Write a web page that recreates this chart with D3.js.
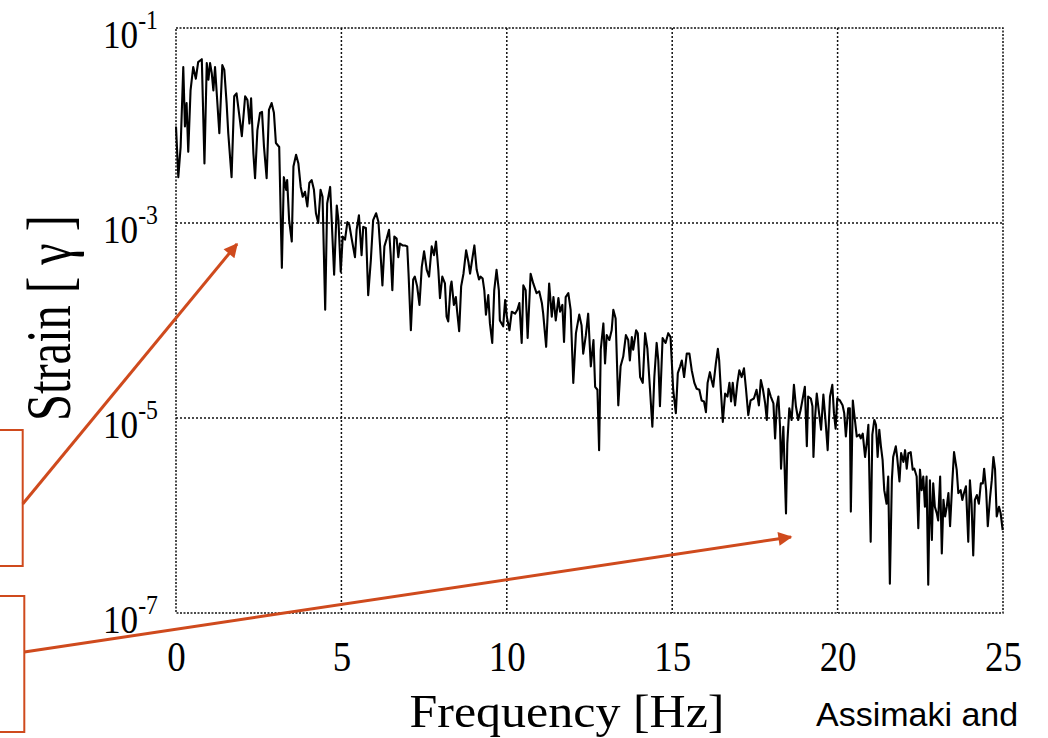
<!DOCTYPE html>
<html><head><meta charset="utf-8">
<script src="https://cdn.jsdelivr.net/npm/d3@7"></script>
<style>html,body{margin:0;padding:0;background:#fff;}svg{display:block;}</style>
</head><body>
<svg id="c" width="1048" height="738"></svg>
<script>
// Frequency (Hz) of each spectral sample
const freq = [
0,0.07,0.14,0.22,0.27,0.32,0.37,0.44,0.52,0.60,
0.67,0.78,0.86,0.93,0.98,1.03,1.08,1.13,1.18,1.31,
1.40,1.46,1.53,1.58,1.68,1.76,1.83,1.93,1.99,2.09,
2.16,2.22,2.27,2.34,2.39,2.46,2.54,2.60,2.66,2.74,
2.81,2.89,2.96,3.02,3.12,3.20,3.26,3.33,3.36,3.42,
3.50,3.55,3.63,3.70,3.77,3.83,3.90,3.97,4.03,4.10,
4.17,4.23,4.30,4.37,4.43,4.51,4.57,4.66,
4.71,4.78,4.86,4.91,4.98,5.04,5.11,5.18,5.24,5.31,
5.41,5.46,5.53,5.61,5.66,5.74,5.81,5.89,5.96,6.05,
6.12,6.17,6.24,6.30,6.37,6.44,6.49,6.54,6.60,6.67,
6.72,6.77,6.85,6.92,6.99,7.03,7.10,7.17,7.22,7.29,
7.36,7.43,7.50,7.58,7.65,7.73,7.80,7.86,7.93,7.98,
8.05,8.13,8.18,8.23,8.30,8.33,8.40,8.46,8.50,8.56,
8.62,8.69,8.77,8.84,8.89,8.96,9.02,9.09,9.16,9.21,
9.27,9.32,9.37,9.44,9.49,9.56,9.62,9.69,9.76,
9.79,9.89,9.95,10.00,10.08,10.15,10.25,10.32,10.38,10.45,
10.50,10.57,10.63,10.72,10.80,10.90,10.98,11.06,11.10,11.19,
11.28,11.36,11.41,11.48,11.56,11.61,11.68,11.73,11.78,11.86,
11.93,12.01,12.09,12.19,12.26,12.31,12.39,12.46,12.54,12.62,
12.67,12.74,12.79,12.84,12.92,12.97,13.02,13.10,13.17,13.22,
13.29,13.37,13.44,13.52,13.60,13.67,13.72,13.78,13.82,13.91,
13.96,14.03,14.11,14.18,14.25,14.33,14.40,14.46,14.53,14.58,
14.63,14.71,14.80,14.88,14.95,15.03,15.11,15.17,15.24,15.29,
15.36,15.44,15.52,15.59,15.67,15.74,15.82,
15.89,15.96,16.02,16.07,16.14,16.19,16.24,16.32,16.38,16.42,
16.47,16.53,16.60,16.67,16.73,16.78,16.83,16.90,16.97,17.03,
17.10,17.17,17.23,17.30,17.37,17.47,17.55,17.62,17.68,17.74,
17.81,17.86,17.91,17.98,18.06,18.11,18.16,18.21,18.26,18.29,
18.36,18.44,18.48,18.54,18.61,18.68,18.74,18.81,18.88,18.93,
19.01,19.07,19.11,19.19,19.24,19.27,19.32,19.37,19.44,19.50,
19.57,19.64,19.70,19.77,19.84,19.89,19.94,19.99,20.07,20.15,
20.20,20.25,20.32,20.37,20.40,20.46,20.50,20.58,20.66,
20.70,20.76,20.83,20.88,20.93,21.00,21.05,21.11,21.16,21.21,
21.26,21.31,21.36,21.41,21.48,21.53,21.58,21.64,21.68,21.76,
21.80,21.87,21.92,21.99,22.04,22.09,22.14,22.21,22.27,22.32,
22.39,22.44,22.49,22.54,22.59,22.64,22.69,22.74,22.79,22.85,
22.89,22.94,23.00,23.04,23.10,23.15,23.20,23.25,23.30,23.35,
23.40,23.47,23.52,23.60,23.65,23.72,23.77,23.82,23.88,23.95,
24.00,24.05,24.10,24.15,24.21,24.27,24.33,24.39,24.43,24.49,
24.54,24.61,24.66,24.71,24.76,24.81,24.88,24.93,24.99
];
// Strain amplitude of each sample, written as its power of ten (strain = 10^value)
const strainLog10 = [
-2.01,-2.53,-2.22,-1.40,-2.01,-1.77,-2.27,-1.64,-1.40,-1.52,
-1.35,-1.32,-2.39,-1.36,-1.53,-1.36,-1.46,-1.64,-1.40,-2.08,
-1.38,-1.43,-1.77,-2.08,-2.53,-1.70,-1.67,-1.94,-2.11,-1.70,
-1.74,-1.98,-1.72,-2.29,-2.54,-2.05,-1.87,-1.86,-2.22,-2.54,
-1.84,-1.77,-1.87,-2.18,-2.22,-3.46,-2.53,-2.66,-2.56,-2.97,
-3.19,-2.42,-2.30,-2.39,-2.63,-2.73,-2.68,-2.83,-2.59,-2.56,
-2.66,-2.90,-3.00,-2.66,-2.73,-3.89,-2.80,-2.63,
-3.00,-3.53,-2.82,-2.97,-3.50,-3.14,-3.17,-2.99,-3.02,-3.16,
-3.35,-3.07,-2.92,-3.33,-3.04,-3.05,-3.74,-3.38,-2.97,-2.90,
-2.99,-3.24,-3.64,-3.24,-3.16,-3.07,-3.33,-3.69,-3.14,-3.16,
-3.35,-3.21,-3.23,-3.23,-3.24,-3.52,-4.10,-3.58,-3.55,-3.65,
-3.84,-3.45,-3.29,-3.48,-3.55,-3.24,-3.33,-3.19,-3.48,-3.77,
-3.55,-3.62,-3.96,-4.01,-3.65,-3.60,-3.84,-3.76,-3.91,-4.11,
-3.65,-3.52,-3.28,-3.40,-3.52,-3.36,-3.23,-3.48,-3.58,-3.55,
-3.57,-3.69,-3.94,-3.74,-4.03,-4.23,-3.69,-3.48,-3.69,
-4.00,-4.06,-3.79,-3.96,-4.10,-3.91,-3.93,-3.89,-3.82,-4.23,
-3.64,-3.69,-4.18,-3.52,-3.62,-3.72,-3.70,-3.82,-3.93,-4.27,
-3.62,-3.96,-3.76,-4.00,-3.77,-3.91,-3.84,-4.22,-3.76,-3.72,
-3.89,-4.64,-4.13,-3.94,-4.05,-4.34,-4.15,-3.93,-4.47,-4.20,
-4.68,-4.71,-5.33,-4.30,-4.03,-4.44,-4.15,-4.20,-4.10,-3.89,
-3.98,-4.87,-4.47,-4.37,-4.15,-4.20,-4.41,-4.17,-4.30,-4.10,
-4.13,-4.58,-4.64,-4.13,-4.29,-4.71,-5.09,-4.58,-4.23,-4.41,
-4.88,-4.18,-4.23,-4.13,-4.17,-4.71,-4.95,-4.54,-4.47,-4.41,
-4.58,-4.34,-4.34,-4.51,-4.64,-4.70,-4.71,
-4.82,-4.83,-4.94,-4.64,-4.53,-4.61,-4.68,-4.44,-4.29,-4.41,
-4.71,-5.04,-4.75,-4.78,-4.64,-4.83,-4.64,-4.87,-4.64,-4.51,
-4.58,-4.49,-4.70,-4.97,-4.82,-4.80,-4.71,-4.87,-4.61,-4.70,
-4.85,-5.02,-4.70,-4.78,-4.85,-5.21,-4.88,-4.78,-5.09,-5.52,
-5.09,-5.98,-5.26,-4.90,-5.02,-4.66,-4.88,-5.02,-4.92,-4.83,
-4.68,-5.29,-4.78,-4.80,-4.88,-5.40,-4.99,-4.75,-4.95,-5.12,
-4.76,-5.05,-5.33,-4.78,-4.66,-4.95,-5.11,-4.80,-4.82,-4.87,
-4.95,-5.19,-4.90,-4.90,-5.96,-4.82,-4.95,-5.19,-5.17,
-5.21,-5.16,-5.40,-5.26,-5.07,-6.27,-5.17,-5.02,-5.07,-5.40,
-5.12,-5.29,-5.43,-5.74,-5.88,-5.60,-6.70,-5.64,-5.40,-5.29,
-5.40,-5.65,-5.36,-5.45,-5.33,-5.52,-5.36,-5.35,-5.53,-5.52,
-5.60,-6.13,-5.53,-5.74,-5.60,-5.91,-5.60,-6.71,-5.64,-6.25,
-5.67,-5.91,-5.98,-6.05,-5.60,-6.39,-5.84,-6.01,-5.91,-5.77,
-6.11,-5.64,-5.35,-5.53,-5.77,-5.74,-5.84,-5.77,-5.70,-6.27,
-5.64,-5.88,-6.41,-5.84,-5.79,-5.88,-5.67,-5.67,-5.52,-5.74,
-6.11,-5.81,-5.64,-5.40,-5.53,-6.01,-5.91,-5.98,-6.15
];
const xTicks = [0, 5, 10, 15, 20, 25];
const yTicks = [1e-1, 1e-3, 1e-5, 1e-7];
const yTickExp = ["-1", "-3", "-5", "-7"];
const xGrid = [5, 10, 15, 20];
const yGrid = [1e-3, 1e-5];
const xTitle = "Frequency [Hz]";
const yTitle = "Strain [ \u03b3 ]";
const credit = "Assimaki and";

const data = freq.map((f, i) => ({f: f, s: Math.pow(10, strainLog10[i])}));

const svg = d3.select("#c");
const L = 176, R = 1003, T = 28, B = 613;
const x = d3.scaleLinear().domain([0, 25]).range([L, R]);
const y = d3.scaleLog().domain([1e-7, 1e-1]).range([B, T]);
const orange = "#CF4A1D";
const serif = "'Liberation Serif','Times New Roman',serif";

svg.append("rect").attr("width", 1048).attr("height", 738).attr("fill", "#fff");

// grid lines
const grid = svg.append("g").attr("stroke", "#111").attr("stroke-width", 1.5).attr("stroke-dasharray", "2,2");
grid.selectAll("line.gx").data(xGrid).join("line").attr("class", "gx")
  .attr("x1", d => x(d)).attr("x2", d => x(d)).attr("y1", T).attr("y2", B);
grid.selectAll("line.gy").data(yGrid).join("line").attr("class", "gy")
  .attr("y1", d => y(d)).attr("y2", d => y(d)).attr("x1", L).attr("x2", R);
// frame
svg.append("rect").attr("x", L).attr("y", T).attr("width", R - L).attr("height", B - T)
  .attr("fill", "none").attr("stroke", "#111").attr("stroke-width", 1.5).attr("stroke-dasharray", "2,1.5");

// x axis labels
const xAxis = d3.axisBottom(x).tickValues(xTicks).tickSize(0).tickFormat(d3.format("d"));
const gx = svg.append("g").attr("transform", `translate(0,${B})`).call(xAxis);
gx.select(".domain").remove();
gx.selectAll("text").attr("y", 0).attr("dy", 0)
  .attr("transform", "translate(0,58) scale(0.88,1)")
  .attr("font-family", serif).attr("font-size", 42).attr("fill", "#000");

// y axis labels with superscripts
const gy = svg.append("g");
yTicks.forEach((v, i) => {
  const t = gy.append("text")
    .attr("transform", `translate(158,${y(v) + 20}) scale(0.88,1)`)
    .attr("text-anchor", "end").attr("font-family", serif).attr("fill", "#000");
  t.append("tspan").attr("font-size", 40).text("10");
  t.append("tspan").attr("font-size", 27).attr("dy", -19).text(yTickExp[i]);
});

// spectrum line
svg.append("path").datum(data)
  .attr("fill", "none").attr("stroke", "#000").attr("stroke-width", 2.1).attr("stroke-linejoin", "round")
  .attr("d", d3.line().x(d => x(d.f)).y(d => y(d.s)));

// axis titles
svg.append("text").attr("x", 567).attr("y", 727).attr("text-anchor", "middle")
  .attr("font-family", serif).attr("font-size", 47)
  .attr("textLength", 315).attr("lengthAdjust", "spacingAndGlyphs").text(xTitle);
svg.append("text").attr("transform", "translate(70,318) rotate(-90)").attr("text-anchor", "middle")
  .attr("font-family", serif).attr("font-size", 64)
  .attr("textLength", 206).attr("lengthAdjust", "spacingAndGlyphs").text(yTitle);

// credit text
svg.append("text").attr("x", 816).attr("y", 726)
  .attr("font-family", "'Liberation Sans',Arial,sans-serif").attr("font-size", 34).attr("fill", "#000").text(credit);

// annotation boxes & arrows
const defs = svg.append("defs");
defs.append("marker").attr("id", "ah").attr("markerUnits", "userSpaceOnUse")
  .attr("viewBox", "0 0 10 10").attr("refX", 9).attr("refY", 5)
  .attr("markerWidth", 17).attr("markerHeight", 14).attr("orient", "auto")
  .append("path").attr("d", "M0,0 L10,5 L0,10 z").attr("fill", orange);

svg.append("rect").attr("x", -5).attr("y", 430).attr("width", 27.7).attr("height", 136)
  .attr("fill", "none").attr("stroke", orange).attr("stroke-width", 2);
svg.append("rect").attr("x", -5).attr("y", 596).attr("width", 29.3).attr("height", 136)
  .attr("fill", "none").attr("stroke", orange).attr("stroke-width", 2);
svg.append("line").attr("x1", 22.7).attr("y1", 504).attr("x2", 237).attr("y2", 244)
  .attr("stroke", orange).attr("stroke-width", 3).attr("marker-end", "url(#ah)");
svg.append("line").attr("x1", 24.3).attr("y1", 652).attr("x2", 791).attr("y2", 537)
  .attr("stroke", orange).attr("stroke-width", 3).attr("marker-end", "url(#ah)");
</script>
</body></html>
